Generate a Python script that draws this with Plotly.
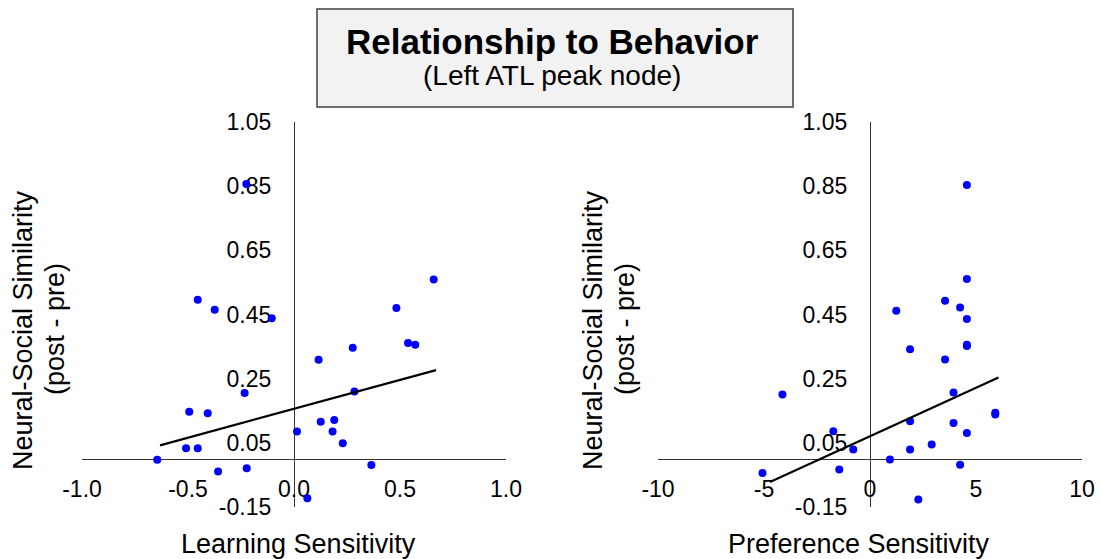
import plotly.graph_objects as go

# ---------------- data ----------------
learning_x = [-0.225, 0.659, -0.454, -0.374, -0.105, 0.483, 0.538, 0.572, 0.277, 0.116,
              0.285, -0.233, -0.494, -0.407, 0.126, 0.190, 0.014, 0.182, 0.230, -0.509,
              -0.454, -0.645, -0.358, -0.223, 0.365, 0.063]
learning_y = [0.857, 0.559, 0.496, 0.465, 0.438, 0.470, 0.361, 0.356, 0.346, 0.309,
              0.210, 0.205, 0.147, 0.142, 0.116, 0.121, 0.085, 0.085, 0.049, 0.033,
              0.033, -0.003, -0.039, -0.029, -0.019, -0.123]

preference_x = [4.57, 4.57, 3.54, 4.25, 1.24, 4.57, 1.89, 4.57, 4.57, 3.54,
                -4.13, 3.94, 5.91, 5.91, 1.89, 3.94, -1.73, 4.57, 2.91, -0.79,
                1.89, 0.94, 4.25, -1.45, -5.07, 2.28]
preference_y = [0.854, 0.561, 0.493, 0.472, 0.462, 0.436, 0.342, 0.356, 0.352, 0.310,
                0.201, 0.207, 0.144, 0.138, 0.117, 0.112, 0.086, 0.081, 0.045, 0.029,
                0.029, -0.002, -0.018, -0.033, -0.044, -0.127]

# trend lines (slope / intercept and x extent)
learning_trend_x = [-0.632, 0.670]
learning_slope, learning_intercept = 0.180, 0.156
preference_trend_x = [-4.72, 6.06]
preference_slope, preference_intercept = 0.0302, 0.0706

title_text = "Relationship to Behavior"
subtitle_text = "(Left ATL peak node)"
x_titles = ["Learning Sensitivity", "Preference Sensitivity"]
y_title_lines = ["Neural-Social Similarity", "(post - pre)"]

y_range = [-0.15, 1.05]
y_tickvals = [-0.15, 0.05, 0.25, 0.45, 0.65, 0.85, 1.05]
y_ticktext = ["-0.15", "0.05", "0.25", "0.45", "0.65", "0.85", "1.05"]
left_x_range = [-1.0, 1.0]
left_x_tickvals = [-1.0, -0.5, 0.0, 0.5, 1.0]
left_x_ticktext = ["-1.0", "-0.5", "0.0", "0.5", "1.0"]
right_x_range = [-10, 10]
right_x_tickvals = [-10, -5, 0, 5, 10]
right_x_ticktext = ["-10", "-5", "0", "5", "10"]

# ---------------- layout geometry ----------------
W, H = 1101, 559
FONT = "Liberation Sans, Arial, sans-serif"

def px(x):
    return x / W

def py(y):
    return 1 - y / H

y_dom = [py(507), py(122)]
left_dom = [px(82), px(506)]
right_dom = [px(658), px(1082)]
zero_frac = (0 - y_range[0]) / (y_range[1] - y_range[0])
x_axis_pos = y_dom[0] + zero_frac * (y_dom[1] - y_dom[0])

fig = go.Figure()

fig.add_trace(go.Scatter(x=learning_x, y=learning_y, mode="markers",
                         marker=dict(color="#0000ff", size=8), xaxis="x", yaxis="y",
                         showlegend=False))
fig.add_trace(go.Scatter(x=learning_trend_x,
                         y=[learning_intercept + learning_slope * v for v in learning_trend_x],
                         mode="lines", line=dict(color="black", width=2.2),
                         xaxis="x", yaxis="y", showlegend=False))
fig.add_trace(go.Scatter(x=preference_x, y=preference_y, mode="markers",
                         marker=dict(color="#0000ff", size=8), xaxis="x2", yaxis="y2",
                         showlegend=False))
fig.add_trace(go.Scatter(x=preference_trend_x,
                         y=[preference_intercept + preference_slope * v for v in preference_trend_x],
                         mode="lines", line=dict(color="black", width=2.2),
                         xaxis="x2", yaxis="y2", showlegend=False))

tickfont = dict(family=FONT, size=23, color="black")
common_x = dict(showgrid=False, zeroline=False, showline=True, linecolor="#333333",
                linewidth=1.3, ticks="outside", ticklen=9, tickcolor="rgba(0,0,0,0)",
                tickfont=tickfont, anchor="free", position=x_axis_pos, automargin=False,
                tickmode="array", layer="below traces", fixedrange=True)
common_y = dict(showgrid=False, zeroline=False, showline=True, linecolor="#333333",
                linewidth=1.3, ticks="outside", ticklen=18, tickcolor="rgba(0,0,0,0)",
                tickfont=tickfont, anchor="free", range=y_range, tickmode="array",
                tickvals=y_tickvals, ticktext=y_ticktext, automargin=False,
                layer="below traces", fixedrange=True)

fig.update_layout(
    width=W, height=H,
    margin=dict(l=0, r=0, t=0, b=0, pad=0, autoexpand=False),
    paper_bgcolor="white", plot_bgcolor="rgba(0,0,0,0)",
    xaxis=dict(common_x, domain=left_dom, range=left_x_range,
               tickvals=left_x_tickvals, ticktext=left_x_ticktext),
    yaxis=dict(common_y, domain=y_dom, position=sum(left_dom) / 2),
    xaxis2=dict(common_x, domain=right_dom, range=right_x_range,
                tickvals=right_x_tickvals, ticktext=right_x_ticktext),
    yaxis2=dict(common_y, domain=y_dom, position=sum(right_dom) / 2),
)

# title box
fig.add_shape(type="rect", xref="paper", yref="paper",
              x0=px(317), x1=px(793), y0=py(107), y1=py(9),
              fillcolor="#f2f2f2", line=dict(color="#404040", width=1.5), layer="below")

annotations = [
    dict(text=f"<b>{title_text}</b>", x=px(552), y=py(41),
         font=dict(family=FONT, size=35, color="black")),
    dict(text=subtitle_text, x=px(552), y=py(75),
         font=dict(family=FONT, size=28, color="black")),
    dict(text=x_titles[0], x=px(298), y=py(544),
         font=dict(family=FONT, size=27, color="black")),
    dict(text=x_titles[1], x=px(859), y=py(544),
         font=dict(family=FONT, size=27, color="black")),
    dict(text=y_title_lines[0], x=px(23), y=py(330), textangle=-90,
         font=dict(family=FONT, size=27, color="black")),
    dict(text=y_title_lines[1], x=px(55), y=py(329), textangle=-90,
         font=dict(family=FONT, size=27, color="black")),
    dict(text=y_title_lines[0], x=px(593), y=py(330), textangle=-90,
         font=dict(family=FONT, size=27, color="black")),
    dict(text=y_title_lines[1], x=px(625), y=py(329), textangle=-90,
         font=dict(family=FONT, size=27, color="black")),
]
for a in annotations:
    fig.add_annotation(xref="paper", yref="paper", showarrow=False,
                       xanchor="center", yanchor="middle", **a)

fig.write_html("out.html")
